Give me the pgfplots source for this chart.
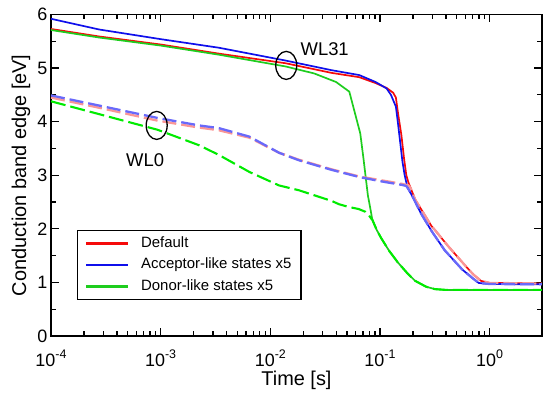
\documentclass[border=0pt]{standalone}
\usepackage{pgfplots}
\pgfplotsset{compat=1.18}
\usepackage{fontspec}
\setmainfont{Liberation Sans}
\definecolor{cred}{RGB}{245,10,10}
\definecolor{cblue}{RGB}{15,15,235}
\definecolor{cgreen}{RGB}{30,205,30}
\definecolor{pred}{RGB}{250,150,150}
\definecolor{pblue}{RGB}{105,105,250}
\definecolor{dgreen}{RGB}{0,235,0}
\newcommand{\tp}[1]{10\raisebox{0.42em}{\fontsize{12.5}{13}\selectfont #1}}
\begin{document}
\begin{tikzpicture}
\begin{axis}[
  scale only axis, width=491bp, height=321.5bp,
  xmode=log, xmin=1e-4, xmax=3, ymin=0, ymax=6,
  xtick={1e-4,1e-3,1e-2,1e-1,1},
  xticklabels={\tp{-4},\tp{-3},\tp{-2},\tp{-1},\tp{0}},
  ytick={0,1,2,3,4,5,6}, yticklabels={0,1,2,3,4,5,6},
  minor ytick={0.5,1.5,2.5,3.5,4.5,5.5},
  tick align=inside, xtick pos=both, ytick pos=both,
  major tick length=8bp, minor tick length=5bp,
  every major tick/.style={black, line width=1.3bp},
  every minor tick/.style={black, line width=1.1bp},
  axis line style={line width=1.8bp},
  xticklabel style={font=\fontsize{18}{20}\selectfont, anchor=base, yshift=-30.5bp},
  yticklabel style={font=\fontsize{18}{20}\selectfont},
  xlabel={Time [s]}, ylabel={Conduction band edge [eV]},
  xlabel style={font=\fontsize{20}{22}\selectfont, at={(axis description cs:0.5,-0.1524)}, anchor=base},
  ylabel style={font=\fontsize{20}{22}\selectfont, at={(axis description cs:-0.0509,0.5)}, anchor=base},
  legend style={at={(0.0529,0.112)}, anchor=south west, draw=black, line width=1.3bp,
    font=\fontsize{15}{18}\selectfont, inner xsep=7.5bp, inner ysep=2bp, row sep=0pt,
    nodes={inner sep=2bp, text height=12.5bp, text depth=5bp}},
  legend cell align=left,
  legend image code/.code={\draw[#1, line width=2.3bp] (0bp,0bp) -- (42bp,0bp); \path (52bp,0bp);},
]
% solid lines
\addplot[color=cred, line width=1.7bp] coordinates {
(1e-4,5.73) (2.75e-4,5.59) (1e-3,5.44) (3.39e-3,5.27) (1.38e-2,5.09) (3.63e-2,4.91)
(6.46e-2,4.83) (9.12e-2,4.72) (0.1148,4.63) (0.1318,4.54) (0.1396,4.45) (0.1462,4.15)
(0.1567,3.75) (0.166,3.30) (0.1738,3.00) (0.182,2.86) (0.1905,2.76) (0.2089,2.55)
(0.2399,2.35) (0.2951,2.05) (0.3162,1.98) (0.4169,1.68) (0.4786,1.54) (0.5888,1.33)
(0.7079,1.15) (0.8318,1.03) (1,0.99) (3,0.98)};
\addlegendentry{Default}
\addplot[color=cblue, line width=1.7bp] coordinates {
(1e-4,5.92) (2.75e-4,5.72) (1e-3,5.54) (3.39e-3,5.38) (1.38e-2,5.14) (3.63e-2,4.96)
(6.46e-2,4.87) (9.12e-2,4.74) (0.1148,4.62) (0.1259,4.50) (0.1396,4.28) (0.1462,3.95)
(0.1531,3.60) (0.1603,3.25) (0.1679,3.00) (0.1758,2.82) (0.1841,2.72) (0.2042,2.55)
(0.2344,2.30) (0.2951,1.96) (0.389,1.60) (0.5623,1.24) (0.7079,1.07) (0.7943,0.99)
(1,0.97) (3,0.965)};
\addlegendentry{Acceptor-like states x5\hspace{6.5bp}}
\addplot[color=cgreen, line width=1.7bp] coordinates {
(1e-4,5.71) (2.75e-4,5.57) (1e-3,5.42) (3.39e-3,5.25) (1.38e-2,5.03) (2.51e-2,4.90)
(3.98e-2,4.74) (5.25e-2,4.56) (6.61e-2,3.78) (7.08e-2,3.30) (7.41e-2,2.96) (7.76e-2,2.62)
(8.13e-2,2.40) (8.51e-2,2.17) (9.33e-2,1.98) (0.1023,1.83) (0.1202,1.60) (0.1445,1.38)
(0.1778,1.17) (0.2089,1.03) (0.263,0.92) (0.3162,0.875) (0.4,0.86) (3,0.86)};
\addlegendentry{Donor-like states x5}
% dashed lines
\addplot[color=pred, line width=2.3bp, dash pattern=on 14bp off 5bp, forget plot] coordinates {
(1e-4,4.45) (2.75e-4,4.26) (9.33e-4,4.02) (2.24e-3,3.89) (3.39e-3,3.84) (6.46e-3,3.70)
(1.2e-2,3.42) (1.82e-2,3.29) (3.63e-2,3.11) (6.38e-2,2.98) (0.1,2.91) (0.1585,2.84)
(0.182,2.81) (0.1905,2.76) (0.2089,2.55) (0.2399,2.35) (0.2951,2.05) (0.3162,1.98)
(0.4169,1.68) (0.4786,1.54) (0.5888,1.33) (0.7079,1.15) (0.8318,1.03) (1,0.99) (3,0.98)};
\addplot[color=pblue, line width=2.3bp, dash pattern=on 14bp off 5bp, forget plot] coordinates {
(1e-4,4.49) (2.75e-4,4.30) (9.33e-4,4.07) (2.24e-3,3.93) (3.39e-3,3.88) (6.46e-3,3.72)
(1.2e-2,3.42) (1.82e-2,3.28) (3.63e-2,3.10) (6.38e-2,2.97) (0.1,2.89) (0.1585,2.82)
(0.1738,2.80) (0.1841,2.72) (0.2042,2.55) (0.2344,2.30) (0.2951,1.96) (0.389,1.60)
(0.5623,1.24) (0.7079,1.07) (0.7943,0.99) (1,0.97) (3,0.965)};
\addplot[color=dgreen, line width=2.1bp, dash pattern=on 15bp off 5bp, forget plot] coordinates {
(1e-4,4.38) (2.75e-4,4.14) (9.33e-4,3.85) (2.24e-3,3.56) (3.39e-3,3.38) (6.46e-3,3.06)
(1.2e-2,2.81) (1.82e-2,2.72) (3.63e-2,2.52) (4.22e-2,2.46) (5.13e-2,2.41) (6.38e-2,2.37)
(7.33e-2,2.32) (7.94e-2,2.25) (8.32e-2,2.19) (8.51e-2,2.17) (9.33e-2,1.98) (0.1023,1.83)
(0.1202,1.60) (0.1445,1.38) (0.1778,1.17) (0.2089,1.03) (0.263,0.92) (0.3162,0.875)
(0.4,0.86) (3,0.86)};
% annotations
\draw[black, line width=1.3bp] (axis cs:9.2e-4,3.93) ellipse [x radius=10.5bp, y radius=14bp];
\draw[black, line width=1.3bp] (axis cs:1.397e-2,5.05) ellipse [x radius=10.5bp, y radius=14bp];
\node[anchor=base, inner sep=0pt, font=\fontsize{18.5}{20}\selectfont] at (axis cs:3.13e-2,5.23) {WL31};
\node[anchor=base, inner sep=0pt, font=\fontsize{18.5}{20}\selectfont] at (axis cs:7.21e-4,3.157) {WL0};
\coordinate (bl) at (rel axis cs:0,0);
\coordinate (tr) at (rel axis cs:1,1);
\end{axis}
\pgfresetboundingbox
\path ([shift={(-51bp,-63bp)}]bl) rectangle ([shift={(1bp,14.5bp)}]tr);
\end{tikzpicture}
\end{document}
